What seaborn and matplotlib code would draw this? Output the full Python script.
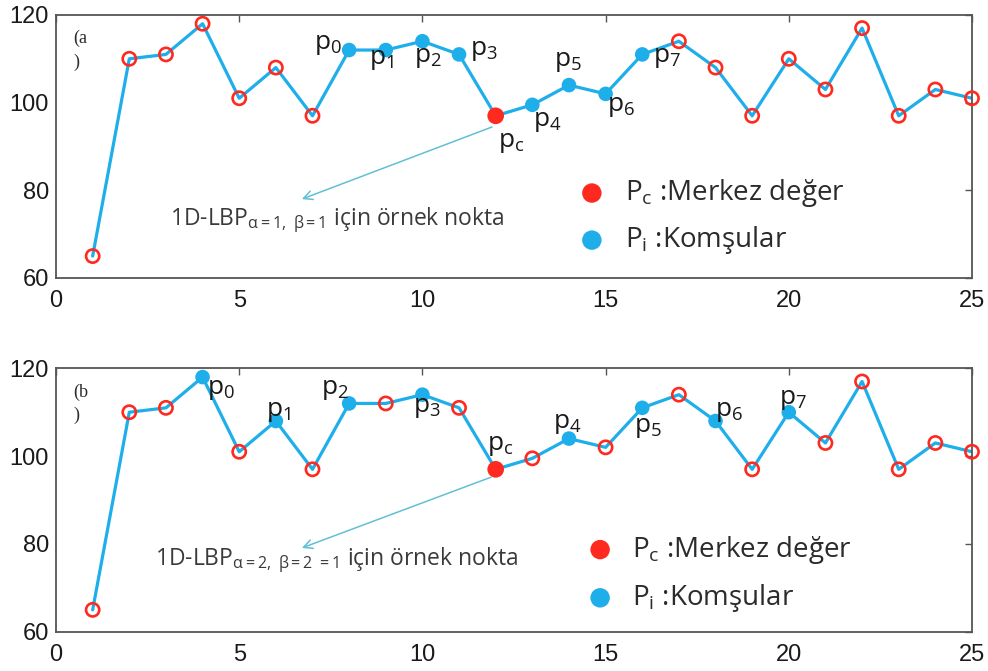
import matplotlib
matplotlib.use("Agg")
import matplotlib.pyplot as plt
import pandas as pd
import seaborn as sns

# --- data -----------------------------------------------------------------
sample_idx = list(range(1, 26))
signal = [65, 110, 111, 118, 101, 108, 97, 112, 112, 114, 111, 97, 99.5,
          104, 102, 111, 114, 108, 97, 110, 103, 117, 97, 103, 101]

center_pos = 12
neighbors_a = [8, 9, 10, 11, 13, 14, 15, 16]     # alpha=1, beta=1
neighbors_b = [4, 6, 8, 10, 14, 16, 18, 20]      # alpha=2, beta=2

x_ticks = [0, 5, 10, 15, 20, 25]
y_ticks = [60, 80, 100, 120]

neighbor_names = ["p$_0$", "p$_1$", "p$_2$", "p$_3$",
                  "p$_4$", "p$_5$", "p$_6$", "p$_7$"]
center_name = "p$_\\mathrm{c}$"
panel_tags = ["(a", "(b"]
note_texts = ["1D-LBP$_{\\mathrm{\\alpha=1,\\ \\beta=1}}$ için örnek nokta",
              "1D-LBP$_{\\mathrm{\\alpha=2,\\ \\beta=2\\ =1}}$ için örnek nokta"]
legend_texts = ["P$_\\mathrm{c}$ :Merkez değer", "P$_\\mathrm{i}$ :Komşular"]

# --- style ------------------------------------------------------------------
sns.set_theme(style="white")
plt.rcParams["font.family"] = ["Liberation Sans", "DejaVu Sans"]
plt.rcParams["mathtext.fontset"] = "custom"
plt.rcParams["mathtext.rm"] = "Open Sans"
plt.rcParams["mathtext.it"] = "Open Sans:italic"
plt.rcParams["mathtext.bf"] = "Open Sans:bold"

LINE = "#1eaeea"
RED = "#ff2a1f"
ARROW = "#62bfd4"
INK = "#2b2b2b"
TEXT_FONT = "Open Sans"

df = pd.DataFrame({"x": sample_idx, "y": signal})

# label offsets (points) for p0..p7 and pc in each panel
offsets_a = [(-15, 4), (-3, -7), (4, -12), (18, 3),
             (11, -12), (-1, 17), (11, -9), (18, -2)]
center_off_a = (11, -19)
offsets_b = [(13, -9), (2, 7), (-10, 10), (3, -9),
             (-1, 11), (4, -14), (10, 7), (3, 9)]
center_off_b = (3, 17)

fig = plt.figure(figsize=(9.88, 6.71), dpi=100)
ax_a = fig.add_axes([0.0567, 0.5857, 0.9271, 0.3920])
ax_b = fig.add_axes([0.0567, 0.0584, 0.9271, 0.3927])

panels = [
    (ax_a, neighbors_a, offsets_a, center_off_a, ((11.90, 94.45), (6.71, 78.0)),
     (3.11, 72.1), (0.585, 0.323, 0.144), 0.621),
    (ax_b, neighbors_b, offsets_b, center_off_b, ((11.87, 95.2), (6.71, 79.1)),
     (2.70, 75.2), (0.594, 0.312, 0.129), 0.629),
]

for i, (ax, neigh, offs, c_off, arrow_pts, note_xy, leg_pos, leg_tx) in enumerate(panels):
    sns.lineplot(data=df, x="x", y="y", ax=ax, color=LINE, lw=2.3,
                 zorder=2, legend=False)

    plain = df[~df["x"].isin(neigh + [center_pos])]
    nb = df[df["x"].isin(neigh)]
    cp = df[df["x"] == center_pos]

    ax.scatter(plain["x"], plain["y"], s=9.5 ** 2, facecolors="none",
               edgecolors=RED, linewidths=1.9, zorder=3, clip_on=False)
    sns.scatterplot(data=nb, x="x", y="y", ax=ax, s=10.5 ** 2, color=LINE,
                    edgecolor="none", zorder=3, legend=False, clip_on=False)
    sns.scatterplot(data=cp, x="x", y="y", ax=ax, s=12 ** 2, color=RED,
                    edgecolor="none", zorder=4, legend=False, clip_on=False)

    for k, xv in enumerate(neigh):
        yv = signal[sample_idx.index(xv)]
        ax.annotate(neighbor_names[k], (xv, yv), xytext=offs[k],
                    textcoords="offset points", ha="center", va="center",
                    fontsize=19, family=TEXT_FONT, color="#1a1a1a", zorder=5)
    ax.annotate(center_name, (center_pos, signal[sample_idx.index(center_pos)]),
                xytext=c_off, textcoords="offset points", ha="center",
                va="center", fontsize=19, family=TEXT_FONT, color="#1a1a1a",
                zorder=5)

    # arrow pointing to the sample note
    ax.annotate("", xy=arrow_pts[1], xytext=arrow_pts[0],
                arrowprops=dict(arrowstyle="->", color=ARROW, lw=1.1,
                                mutation_scale=16, shrinkA=0, shrinkB=0))
    ax.text(note_xy[0], note_xy[1], note_texts[i], fontsize=16.5,
            family=TEXT_FONT, color="#3a3a3a", ha="left", va="baseline")

    # legend-like key
    lx, ly1, ly2 = leg_pos
    ax.scatter([lx], [ly1], s=14 ** 2, color=RED, edgecolors="none",
               transform=ax.transAxes, zorder=5)
    ax.scatter([lx], [ly2], s=14 ** 2, color=LINE, edgecolors="none",
               transform=ax.transAxes, zorder=5)
    ax.text(leg_tx, ly1, legend_texts[0], transform=ax.transAxes,
            fontsize=20, family=TEXT_FONT, color=INK, ha="left", va="center")
    ax.text(leg_tx, ly2, legend_texts[1], transform=ax.transAxes,
            fontsize=20, family=TEXT_FONT, color=INK, ha="left", va="center")

    # panel tag split over two lines
    ax.text(0.019, 0.91, panel_tags[i], transform=ax.transAxes, fontsize=13,
            family="Liberation Serif", color=INK, ha="left", va="center")
    ax.text(0.019, 0.82, ")", transform=ax.transAxes, fontsize=13,
            family="Liberation Serif", color=INK, ha="left", va="center")

    ax.set_xlim(0, 25)
    ax.set_ylim(60, 120)
    ax.set_xticks(x_ticks)
    ax.set_yticks(y_ticks)
    ax.set_xlabel("")
    ax.set_ylabel("")
    ax.tick_params(direction="in", length=5, width=1.0, color="#555555",
                   top=True, right=True, labelsize=17, labelcolor="#1a1a1a")
    ax.tick_params(axis="x", pad=9)
    ax.tick_params(axis="y", pad=5)
    for sp in ax.spines.values():
        sp.set_color("#555555")
        sp.set_linewidth(1.3)
        sp.set_visible(True)

fig.savefig("out.png", dpi=100)
